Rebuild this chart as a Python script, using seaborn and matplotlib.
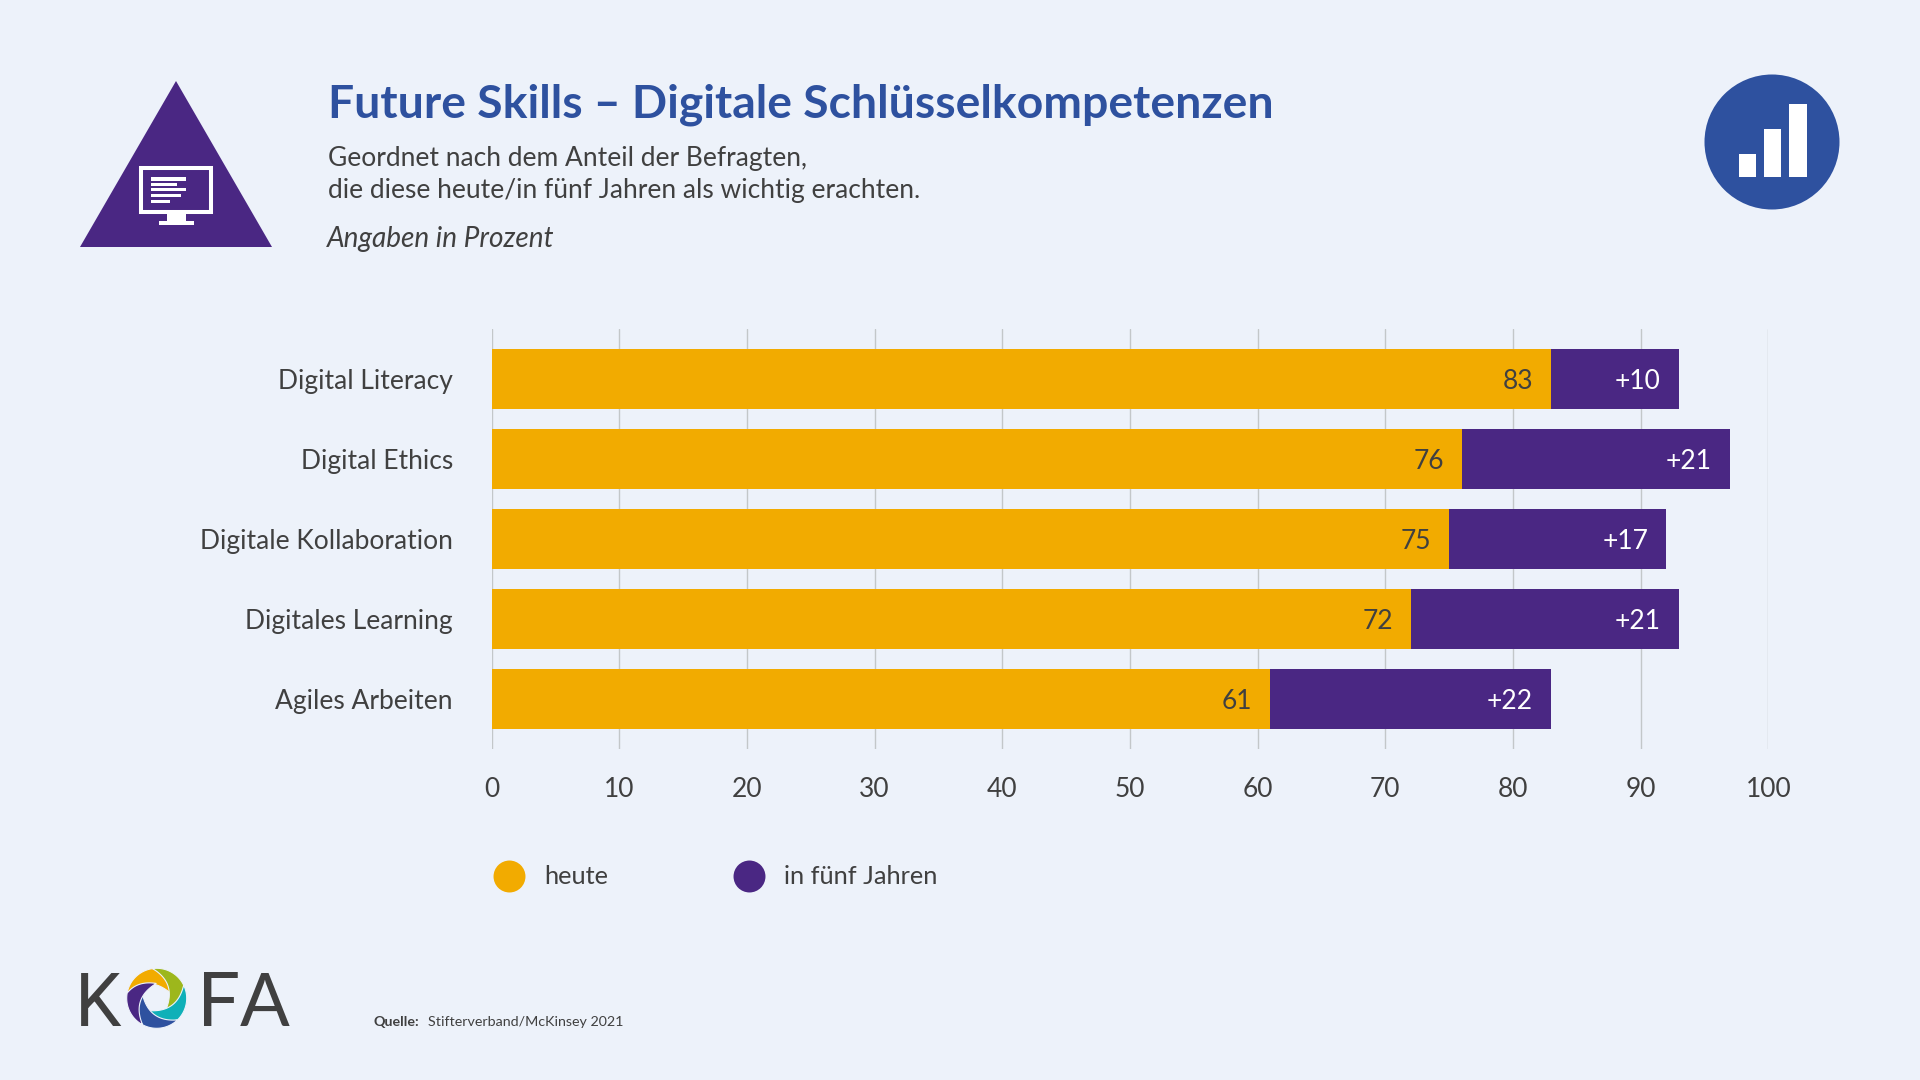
import numpy as np
import pandas as pd
import matplotlib
matplotlib.use("Agg")
import matplotlib.pyplot as plt
from matplotlib.patches import Polygon, Circle, Rectangle
from matplotlib.lines import Line2D
import seaborn as sns

categories = ["Digital Literacy", "Digital Ethics", "Digitale Kollaboration", "Digitales Learning", "Agiles Arbeiten"]
heute = [83, 76, 75, 72, 61]
zuwachs = [10, 21, 17, 21, 22]
xticks = [0, 10, 20, 30, 40, 50, 60, 70, 80, 90, 100]
legend_labels = ["heute", "in fünf Jahren"]

BG = "#EDF2FA"; ORANGE = "#F2AB00"; PURPLE = "#4A2783"; BLUE = "#2E519F"
TEAL = "#0FB0B8"; GREEN = "#9DB71C"; TXT = "#404040"; GRID = "#C3C7C9"
W, H = 1920, 1080
BODY = "Lato"

sns.set_theme(style="white")
plt.rcParams["font.family"] = [BODY, "DejaVu Sans"]
df = pd.DataFrame({"cat": categories, "heute": heute, "zuwachs": zuwachs})
df["gesamt"] = df["heute"] + df["zuwachs"]

fig = plt.figure(figsize=(W / 100, H / 100), dpi=100, facecolor=BG)
ax = fig.add_axes([491.7 / W, 1 - 749 / H, (1768.3 - 491.7) / W, 420 / H])
ax.set_facecolor("none")
sns.barplot(data=df, y="cat", x="gesamt", color=PURPLE, width=0.75, saturation=1, ax=ax, zorder=3, linewidth=0)
sns.barplot(data=df, y="cat", x="heute", color=ORANGE, width=0.75, saturation=1, ax=ax, zorder=4, linewidth=0)
ax.set_xlim(0, 100); ax.set_ylim(4.625, -0.625)
ax.set_xlabel(""); ax.set_ylabel("")
ax.set_xticks(xticks); ax.set_xticklabels([str(t) for t in xticks])
ax.xaxis.grid(True, color=GRID, lw=1.0, zorder=0); ax.set_axisbelow(True)
ax.yaxis.grid(False)
for s in ax.spines.values():
    s.set_visible(False)
ax.tick_params(axis="x", length=0, pad=20.5, labelsize=19, labelcolor=TXT)
ax.tick_params(axis="y", length=0, pad=28, labelsize=19, labelcolor=TXT)

for i, (h, z) in enumerate(zip(heute, zuwachs)):
    ax.annotate(str(h), xy=(h, i), xytext=(-13, 0), textcoords="offset points", ha="right", va="center_baseline",
                fontsize=19, color=TXT, zorder=6)
    ax.annotate(f"+{z}", xy=(h + z, i), xytext=(-13, 0), textcoords="offset points", ha="right", va="center_baseline",
                fontsize=19, color="white", zorder=6)

handles = [Line2D([], [], ls="", marker="o", ms=23, mfc=c, mec="none") for c in (ORANGE, PURPLE)]
fig.legend(handles, legend_labels, loc="center left", bbox_to_anchor=(484 / W, 1 - 877 / H), ncol=2, frameon=False,
           fontsize=18.3, labelcolor=TXT, handletextpad=0.38, columnspacing=4.54, borderpad=0, borderaxespad=0)

ov = fig.add_axes([0, 0, 1, 1], zorder=-1)
ov.set_xlim(0, W); ov.set_ylim(H, 0); ov.axis("off")

def rect(x0, y0, x1, y1, c="white"):
    ov.add_patch(Rectangle((x0, y0), x1 - x0, y1 - y0, fc=c, ec="none"))

# Header
ov.text(328, 117, "Future Skills – Digitale Schlüsselkompetenzen", weight="bold",
        fontsize=33.3, color=BLUE, va="baseline")
ov.text(328, 166, "Geordnet nach dem Anteil der Befragten,", fontsize=19, color=TXT, va="baseline")
ov.text(328, 198, "die diese heute/in fünf Jahren als wichtig erachten.", fontsize=19, color=TXT, va="baseline")
ov.text(327, 247, "Angaben in Prozent", fontsize=20.2, style="italic", color=TXT, va="baseline")
ov.text(374, 1026, "Quelle:", fontsize=10.3, weight="bold", color=TXT, va="baseline")
ov.text(428, 1026, "Stifterverband/McKinsey 2021", fontsize=10.3, color=TXT, va="baseline")

# Triangle icon
ov.add_patch(Polygon([(176, 81), (272, 247), (80, 247)], fc=PURPLE, ec="none"))
ov.add_patch(Rectangle((141.3, 168), 69.4, 44.3, fc="none", ec="white", lw=2.9))
rect(166.7, 214, 185.7, 222); rect(158.7, 221.3, 193.7, 225.3)
for y0, y1, xe in [(177, 180.7, 185.7), (183, 186, 177.3), (188.3, 191.3, 185.7), (193.7, 197.3, 181), (199.7, 202.7, 169.7)]:
    rect(150.7, y0, xe, y1)

# Round icon
ov.add_patch(Circle((1772, 142), 67.5, fc=BLUE, ec="none"))
rect(1738.5, 154, 1756.3, 177); rect(1763.5, 129, 1781.3, 177); rect(1788.5, 103.5, 1806.5, 177)

# KOFA logo
ov.text(75, 1026.5, "K", family=["Roboto", "DejaVu Sans"], fontsize=53, color=TXT, va="baseline", ha="left")
ov.text(197.5, 1026.5, "F", fontsize=55, color=TXT, va="baseline", ha="left")
ov.text(239.5, 1026.5, "A", fontsize=53, color=TXT, va="baseline", ha="left")

def bez(p0, c, p1, n=30):
    t = np.linspace(0, 1, n)[:, None]
    return (1 - t) ** 2 * np.array(p0) + 2 * t * (1 - t) * np.array(c) + t ** 2 * np.array(p1)

ang = np.radians(np.linspace(170, 98, 40))
arc = np.c_[30 * np.cos(ang), 30 * np.sin(ang)]
blade = np.vstack([arc, bez(arc[-1], (11, 24), (14, 5)), bez((14, 5), (-8, 24), arc[0])])
cx, cy = 156.7, 998.3
for k, c in enumerate([ORANGE, GREEN, TEAL, BLUE, PURPLE]):
    a = -np.radians(72 * k)
    R = np.array([[np.cos(a), -np.sin(a)], [np.sin(a), np.cos(a)]])
    pts = blade @ R.T
    ov.add_patch(Polygon(np.c_[cx + pts[:, 0], cy - pts[:, 1]], fc=c, ec=BG, lw=0.8, zorder=3 + k))

fig.savefig("out.png", dpi=100, facecolor=BG)
